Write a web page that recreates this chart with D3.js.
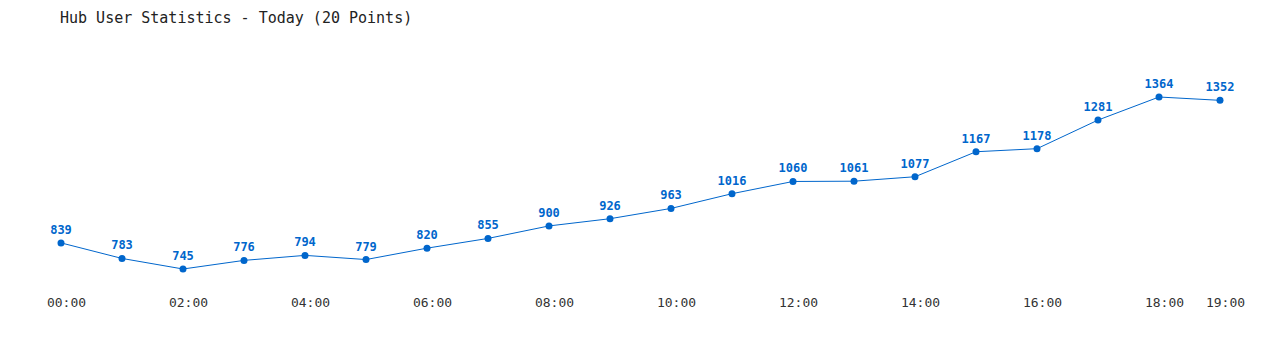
<!DOCTYPE html>
<html><head><meta charset="utf-8">
<script src="https://cdn.jsdelivr.net/npm/d3@7"></script>
<style>body{margin:0;background:#fff}svg{display:block}</style>
</head><body>
<svg id="c" width="1280" height="350"></svg>
<script>
const hours = ["00:00","01:00","02:00","03:00","04:00","05:00","06:00","07:00","08:00","09:00","10:00","11:00","12:00","13:00","14:00","15:00","16:00","17:00","18:00","19:00"];
const users = [839,783,745,776,794,779,820,855,900,926,963,1016,1060,1061,1077,1167,1178,1281,1364,1352];
const tickLabels = ["00:00","02:00","04:00","06:00","08:00","10:00","12:00","14:00","16:00","18:00","19:00"];
const title = "Hub User Statistics - Today (20 Points)";

const svg = d3.select("#c");
const font = "'DejaVu Sans Mono', 'Liberation Mono', monospace";
const blue = "#0066cc";

const x = d3.scalePoint().domain(hours).range([61, 1220]);
const y = d3.scaleLinear().domain([d3.min(users), d3.max(users)]).range([269, 97]);

svg.append("text").attr("x", 60).attr("y", 23)
  .attr("font-family", font).attr("font-size", 15).attr("fill", "#222")
  .text(title);

const axis = d3.axisBottom(x).tickValues(tickLabels).tickSize(0).tickPadding(0);
const g = svg.append("g").attr("transform", "translate(5,298)").call(axis);
g.select(".domain").remove();
g.selectAll("text").attr("font-family", font).attr("font-size", 13).attr("fill", "#333");

const pts = hours.map((h, i) => [h, users[i]]);
svg.append("path").datum(pts)
  .attr("d", d3.line().x(d => x(d[0])).y(d => y(d[1])))
  .attr("fill", "none").attr("stroke", blue).attr("stroke-width", 1);

svg.selectAll("circle.p").data(pts).join("circle").attr("class","p")
  .attr("cx", d => x(d[0])).attr("cy", d => y(d[1])).attr("r", 3.5).attr("fill", blue);

svg.selectAll("text.v").data(pts).join("text").attr("class","v")
  .attr("x", d => x(d[0])).attr("y", d => y(d[1]) - 9)
  .attr("text-anchor", "middle").attr("font-family", font).attr("font-size", 12)
  .attr("font-weight", "bold").attr("fill", blue)
  .text(d => d[1]);
</script>
</body></html>
